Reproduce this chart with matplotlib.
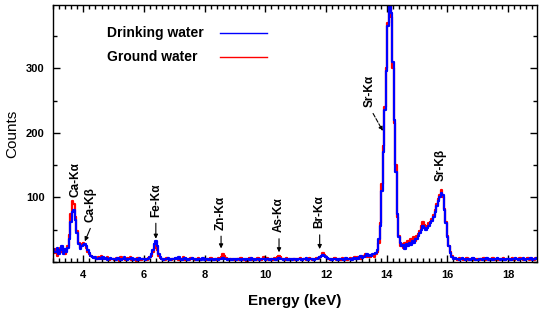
import numpy as np
import matplotlib
matplotlib.use("Agg")
import matplotlib.pyplot as plt
from matplotlib.ticker import MultipleLocator

plt.rcParams['font.family'] = ['Liberation Sans', 'DejaVu Sans']

# energy grid (keV), 0.05 keV channels from 3.00 to 18.95
energy = np.round(3.0 + 0.05 * np.arange(320), 2)

# ground water counts, one row per keV
ground = [
    18, 14, 20, 10, 17, 22, 15, 19, 13, 18, 24, 42, 75, 94, 90, 70, 48, 30, 22, 28,
    30, 26, 22, 16, 12, 10, 7, 8, 6, 5, 7, 4, 9, 5, 6, 4, 8, 3, 5, 4,
    5, 3, 6, 4, 2, 7, 4, 5, 3, 6, 4, 8, 3, 5, 4, 2, 6, 4, 3, 5,
    4, 5, 3, 6, 7, 10, 16, 22, 25, 18, 10, 6, 4, 5, 3, 6, 4, 5, 3, 4,
    5, 4, 6, 3, 5, 4, 7, 3, 4, 5, 3, 6, 4, 5, 3, 4, 6, 3, 5, 4,
    4, 3, 5, 4, 6, 3, 4, 5, 3, 6, 5, 8, 12, 9, 6, 4, 3, 5, 4, 3,
    3, 5, 4, 3, 6, 4, 3, 5, 2, 4, 6, 3, 4, 5, 3, 6, 4, 3, 5, 7,
    4, 6, 3, 5, 4, 3, 6, 5, 7, 10, 8, 5, 4, 3, 6, 4, 5, 3, 4, 5,
    3, 5, 4, 6, 3, 4, 5, 3, 4, 6, 5, 3, 4, 5, 6, 4, 7, 10, 14, 11,
    8, 5, 4, 3, 5, 4, 6, 3, 4, 5, 3, 6, 4, 5, 3, 4, 6, 5, 4, 7,
    5, 8, 6, 4, 7, 9, 12, 8, 10, 7, 9, 11, 8, 12, 15, 30, 60, 120, 180, 240,
    300, 370, 425, 380, 300, 215, 150, 70, 40, 25, 28, 22, 30, 25, 32, 28, 35, 30, 38, 33,
    40, 44, 48, 55, 62, 58, 52, 56, 60, 62, 66, 72, 80, 90, 98, 104, 111, 100, 82, 62,
    40, 25, 15, 9, 6, 4, 5, 3, 6, 4, 5, 3, 4, 6, 3, 5, 4, 3, 5, 4,
    4, 3, 5, 4, 6, 3, 4, 5, 3, 4, 6, 3, 5, 4, 3, 5, 4, 6, 3, 4,
    5, 3, 4, 6, 3, 4, 5, 3, 6, 4, 3, 5, 4, 6, 3, 4, 5, 3, 6, 4,
]

# drinking water counts
drinking = [
    20, 16, 15, 22, 12, 19, 24, 13, 20, 15, 22, 35, 62, 78, 80, 65, 45, 28, 20, 24,
    26, 28, 24, 18, 14, 9, 8, 6, 7, 5, 4, 6, 5, 8, 4, 6, 3, 5, 6, 4,
    4, 5, 3, 6, 4, 3, 5, 7, 4, 3, 5, 4, 6, 3, 5, 4, 3, 6, 4, 5,
    5, 3, 4, 5, 8, 12, 18, 28, 33, 24, 12, 7, 5, 3, 4, 5, 6, 3, 5, 4,
    4, 6, 5, 7, 4, 3, 5, 6, 4, 3, 5, 4, 6, 4, 5, 3, 4, 5, 3, 6,
    3, 4, 5, 3, 4, 5, 3, 4, 5, 3, 4, 5, 6, 5, 4, 3, 5, 4, 3, 4,
    4, 3, 5, 4, 3, 5, 4, 3, 5, 4, 3, 6, 4, 3, 5, 4, 3, 4, 5, 4,
    3, 4, 5, 3, 4, 5, 4, 3, 5, 6, 5, 4, 3, 5, 4, 3, 5, 4, 3, 4,
    4, 3, 5, 4, 3, 5, 4, 6, 3, 4, 5, 4, 3, 5, 4, 6, 8, 10, 11, 9,
    7, 6, 4, 5, 3, 4, 5, 4, 3, 5, 4, 5, 3, 6, 4, 5, 4, 3, 6, 5,
    6, 5, 7, 9, 6, 8, 10, 12, 9, 11, 10, 13, 12, 14, 18, 35, 55, 110, 170, 235,
    295, 365, 420, 385, 310, 220, 140, 75, 38, 30, 24, 27, 20, 28, 24, 30, 27, 33, 30, 35,
    36, 40, 45, 50, 55, 52, 50, 53, 56, 60, 64, 70, 78, 86, 94, 100, 107, 103, 80, 60,
    38, 24, 14, 8, 5, 6, 4, 5, 3, 4, 6, 4, 3, 5, 4, 3, 5, 6, 4, 3,
    3, 5, 4, 3, 5, 4, 6, 3, 4, 5, 3, 4, 5, 6, 4, 3, 5, 4, 3, 5,
    4, 5, 3, 4, 5, 6, 4, 3, 5, 4, 6, 3, 4, 5, 4, 6, 3, 5, 4, 6,
]

# peak labels: (text, label x, label bottom y, arrow tip x, arrow tip y or None)
peak_names = ["Ca-Kα", "Ca-Kβ", "Fe-Kα", "Zn-Kα", "As-Kα", "Br-Kα", "Sr-Kα", "Sr-Kβ"]
label_x = [3.74, 4.23, 6.39, 8.54, 10.45, 11.79, 13.43, 15.79]
label_y = [100, 62, 70, 50, 46, 52, 240, 125]
tip_x = [None, 4.05, 6.39, 8.54, 10.45, 11.79, 13.87, None]
tip_y = [None, 32, 36, 21, 15, 20, 203, None]

series_names = ['Drinking water', 'Ground water']
series_colors = ['#0000ff', '#ff0000']

fig = plt.figure(figsize=(5.49, 3.11), dpi=100)
ax = fig.add_axes([0.0965, 0.1576, 0.8815, 0.8264])

ax.step(energy, drinking, where='mid', color=series_colors[0], lw=1.6, zorder=2)
ax.step(energy, ground, where='mid', color=series_colors[1], lw=1.6, zorder=1)

ax.set_xlim(3, 18.95)
ax.set_ylim(0, 398)

ax.xaxis.set_major_locator(MultipleLocator(2))
ax.xaxis.set_minor_locator(MultipleLocator(0.2))
ax.set_yticks([100, 200, 300])
ax.yaxis.set_minor_locator(MultipleLocator(50))
ax.tick_params(which='both', direction='in', top=True, right=True, width=1)
ax.tick_params(which='major', length=5, labelsize=8, pad=6)
ax.tick_params(which='minor', length=3)
for lab in ax.get_xticklabels() + ax.get_yticklabels():
    lab.set_fontweight('bold')

for s in ax.spines.values():
    s.set_linewidth(1)

ax.set_xlabel('Energy (keV)', fontsize=11, fontweight='bold', labelpad=10)
ax.set_ylabel('Counts', fontsize=11, labelpad=5)

for name, lx, ly, tx, ty in zip(peak_names, label_x, label_y, tip_x, tip_y):
    ax.text(lx, ly, name, rotation=90, ha='center', va='bottom',
            fontsize=8.5, fontweight='bold')
    if tx is not None:
        if name == "Sr-Kα":
            start = (13.55, 230)
        else:
            start = (lx, ly - 10)
        ax.annotate('', xy=(tx, ty), xytext=start,
                    arrowprops=dict(arrowstyle='-|>', color='black', lw=0.8,
                                    mutation_scale=6, shrinkA=0, shrinkB=0,
                                    linestyle='--' if name == "Sr-Kα" else '-'))

# legend: text on the left, line sample on the right
for i, (nm, col) in enumerate(zip(series_names, series_colors)):
    yy = 0.891 - i * 0.093
    ax.text(0.1116, yy, nm, transform=ax.transAxes, ha='left', va='center',
            fontsize=10, fontweight='bold')
    ax.plot([0.345, 0.442], [yy, yy], transform=ax.transAxes, color=col, lw=1)

fig.savefig('out.png', dpi=100)
